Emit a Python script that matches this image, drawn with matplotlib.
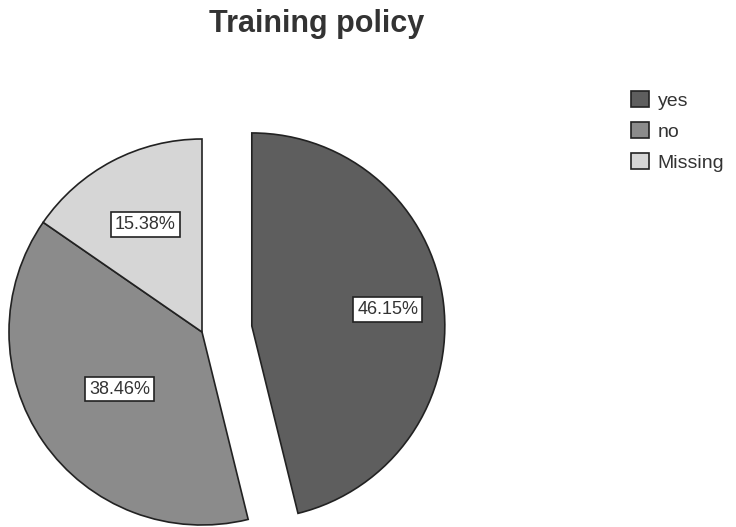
import matplotlib.pyplot as plt
import numpy as np

labels = ["yes", "no", "Missing"]
shares = [46.15, 38.46, 15.38]
colors = ["#5e5e5e", "#8b8b8b", "#d6d6d6"]
explode = [0.26, 0, 0]
pct_dist = [0.71, 0.52, 0.63]  # label distance per slice, in radii

plt.rcParams["font.family"] = ["Liberation Sans", "DejaVu Sans"]

W, H = 736, 527
cx, cy, r_px = 202, 332, 193  # pie centre / radius in pixels

fig = plt.figure(figsize=(W / 100, H / 100), dpi=100)
ax = fig.add_axes([0, 0, 1, 1])

wedges, _, autotexts = ax.pie(
    shares, colors=colors, explode=explode, startangle=90, counterclock=False,
    autopct="%.2f%%",
    wedgeprops=dict(edgecolor="#222222", linewidth=1.2),
    textprops=dict(fontsize=13, color="#333333"),
)
ax.set_xlim(-cx / r_px, (W - cx) / r_px)
ax.set_ylim(-(H - cy) / r_px, cy / r_px)
ax.set_aspect("equal")
ax.axis("off")

for w, t, d in zip(wedges, autotexts, pct_dist):
    th = np.deg2rad((w.theta1 + w.theta2) / 2)
    x0, y0 = w.center
    t.set_position((x0 + d * w.r * np.cos(th), y0 + d * w.r * np.sin(th)))
    t.set_bbox(dict(boxstyle="square,pad=0.22", fc="white", ec="#222222", lw=1.2))

fig.text(0.43, 1 - 24 / H, "Training policy", ha="center", va="center",
         fontsize=22, fontweight="bold", color="#333333")

fig.legend(wedges, labels, loc="upper left", bbox_to_anchor=(0.834, 0.86),
           frameon=False, fontsize=14, handlelength=0.9, handleheight=0.9,
           labelspacing=0.62, handletextpad=0.45, labelcolor="#333333")

fig.savefig("out.png", dpi=100)
